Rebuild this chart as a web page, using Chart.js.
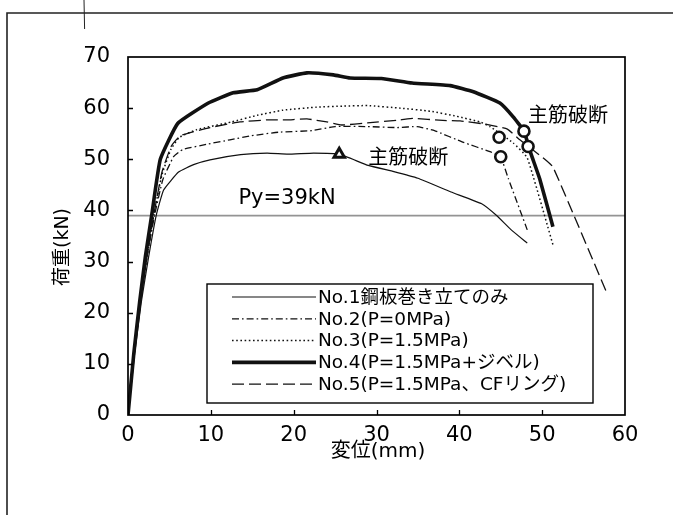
<!DOCTYPE html>
<html>
<head>
<meta charset="utf-8">
<script src="https://cdn.jsdelivr.net/npm/chart.js@4.4.1/dist/chart.umd.min.js"></script>
<style>
  html, body { margin: 0; padding: 0; background: #fff; }
  #wrap { width: 673px; height: 515px; position: relative; }
</style>
</head>
<body>
<div id="wrap"><canvas id="c"></canvas></div>
<script>
// Load–displacement records (displacement in mm, load in kN)
const seriesLabels = [
  'No.1鋼板巻き立てのみ',
  'No.2(P=0MPa)',
  'No.3(P=1.5MPa)',
  'No.4(P=1.5MPa+ジベル)',
  'No.5(P=1.5MPa、CFリング)'
];

const no1Disp = [0, 0.8, 1.6, 2.5, 3.4, 4.3, 6.1, 8.0, 9.9, 13.6, 16.8, 19.3, 22.4, 25.5, 29.0, 32.1, 35.0, 39.0, 42.7, 44.5, 46.2, 48.2];
const no1Load = [0, 12, 22, 31, 39, 44, 47.5, 49.0, 49.9, 50.9, 51.2, 51.0, 51.2, 51.0, 48.8, 47.6, 46.3, 43.6, 41.3, 39.0, 36.3, 33.6];

const no2Disp = [0, 0.75, 1.5, 2.3, 3.2, 4.2, 5.5, 6.6, 9.7, 12.3, 14.9, 18.2, 22.2, 25.0, 28.9, 32.5, 34.9, 37.0, 40.5, 43.7, 45.0, 45.9, 48.2];
const no2Load = [0, 12, 22, 31, 39, 46, 50.5, 51.9, 53.0, 53.8, 54.6, 55.3, 55.6, 56.4, 56.4, 56.2, 56.4, 55.6, 53.3, 51.5, 50.4, 46.3, 36.2];

const no3Disp = [0, 0.75, 1.5, 2.3, 3.1, 4.1, 5.2, 6.2, 8.3, 12.5, 15.6, 18.7, 22.8, 26.0, 28.9, 32.9, 36.5, 39.7, 42.5, 43.7, 46.5, 48.2, 51.3];
const no3Load = [0, 12, 22, 31, 39, 47, 52, 54.3, 55.8, 57.3, 58.6, 59.6, 60.2, 60.4, 60.5, 60.0, 59.4, 58.4, 57.3, 56.4, 53.2, 50.3, 33.3];

const no4Disp = [0, 0.7, 1.4, 2.1, 2.9, 3.9, 6.0, 9.7, 12.7, 15.6, 18.7, 21.6, 24.8, 26.8, 30.6, 34.3, 38.9, 41.7, 44.9, 46.5, 47.8, 48.6, 49.7, 51.3];
const no4Load = [0, 12, 22, 31, 39.5, 50, 57, 61, 63, 63.6, 65.9, 66.9, 66.5, 65.9, 65.8, 64.9, 64.4, 63.2, 61.0, 58.3, 55.5, 51.3, 46.2, 36.8];

const no5Disp = [0, 0.75, 1.5, 2.3, 3.1, 4.1, 5.2, 6.3, 9.9, 13.5, 16.8, 19.2, 21.6, 24.0, 25.8, 28.9, 32.9, 34.4, 38.0, 40.1, 43.0, 45.8, 47.3, 50.1, 51.3, 57.9];
const no5Load = [0, 12, 22, 31, 39, 47.5, 52.5, 54.6, 56.2, 57.3, 57.7, 57.7, 57.9, 57.3, 56.7, 57.1, 57.7, 58.0, 57.6, 57.5, 56.9, 55.9, 53.8, 50.3, 48.5, 23.5];

// Rebar fracture points
const fractureTriDisp = [25.5];
const fractureTriLoad = [51.0];
const fractureCircDisp = [44.8, 45.0, 47.8, 48.3];
const fractureCircLoad = [54.3, 50.5, 55.5, 52.5];

// Yield load
const yieldLoad = 39;

// Axis ticks
const xTickValues = [0, 10, 20, 30, 40, 50, 60];
const yTickValues = [0, 10, 20, 30, 40, 50, 60, 70];

const pts = (xs, ys) => xs.map((v, i) => ({ x: v, y: ys[i] }));

const INK = '#111';
const LATIN_CJK = '"DejaVu Sans", "Noto Sans CJK JP", sans-serif';
const CJK = '"Noto Sans CJK JP", "DejaVu Sans", sans-serif';

const lineBase = {
  showLine: true,
  pointRadius: 0,
  pointHoverRadius: 0,
  borderColor: INK,
  backgroundColor: INK,
  fill: false,
  tension: 0.12,
  borderCapStyle: 'butt',
  borderJoinStyle: 'round'
};

const datasets = [
  { label: 'fracture-tri', data: pts(fractureTriDisp, fractureTriLoad), showLine: false,
    pointStyle: 'triangle', pointRadius: 6, borderWidth: 3, borderColor: INK, backgroundColor: '#fff', order: 0 },
  { label: 'fracture-circ', data: pts(fractureCircDisp, fractureCircLoad), showLine: false,
    pointStyle: 'circle', pointRadius: 5.5, borderWidth: 2.6, borderColor: INK, backgroundColor: '#fff', order: 0 },
  { ...lineBase, label: seriesLabels[0], data: pts(no1Disp, no1Load), borderWidth: 1.2, borderDash: [], order: 2, legendRow: 0 },
  { ...lineBase, label: seriesLabels[1], data: pts(no2Disp, no2Load), borderWidth: 1.3, borderDash: [7, 3, 1.6, 3], order: 2, legendRow: 1 },
  { ...lineBase, label: seriesLabels[2], data: pts(no3Disp, no3Load), borderWidth: 1.5, borderDash: [1.6, 2.6], order: 2, legendRow: 2 },
  { ...lineBase, label: seriesLabels[3], data: pts(no4Disp, no4Load), borderWidth: 3.6, borderDash: [], order: 1, legendRow: 3 },
  { ...lineBase, label: seriesLabels[4], data: pts(no5Disp, no5Load), borderWidth: 1.3, borderDash: [12, 5], order: 2, legendRow: 4 },
  { ...lineBase, label: 'Py', data: [{ x: 0, y: yieldLoad }, { x: 60, y: yieldLoad }],
    borderColor: '#949494', borderWidth: 1.7, tension: 0, order: 3 }
];

// Frame, inward ticks, axis titles, notes and the boxed legend
const figureDecor = {
  id: 'figureDecor',
  afterDraw(chart) {
    const { ctx, chartArea: a, scales: { x, y } } = chart;
    ctx.save();

    // outer figure rule lines
    ctx.strokeStyle = '#222';
    ctx.lineWidth = 1.6;
    ctx.beginPath();
    ctx.moveTo(7, 515); ctx.lineTo(7, 13); ctx.lineTo(673, 13);
    ctx.stroke();
    ctx.lineWidth = 1;
    ctx.beginPath();
    ctx.moveTo(84, 0); ctx.lineTo(84.6, 29);
    ctx.stroke();

    // plot frame
    ctx.strokeStyle = '#000';
    ctx.lineWidth = 1.7;
    ctx.strokeRect(a.left, a.top, a.right - a.left, a.bottom - a.top);

    // inward tick marks
    ctx.lineWidth = 1.3;
    ctx.beginPath();
    xTickValues.slice(1, -1).forEach(v => {
      const px = Math.round(x.getPixelForValue(v)) + 0.5;
      ctx.moveTo(px, a.bottom); ctx.lineTo(px, a.bottom - 5);
    });
    yTickValues.slice(1, -1).forEach(v => {
      const py = Math.round(y.getPixelForValue(v)) + 0.5;
      ctx.moveTo(a.left, py); ctx.lineTo(a.left + 5, py);
    });
    ctx.stroke();

    ctx.fillStyle = '#000';

    // axis titles
    ctx.font = '20px ' + LATIN_CJK;
    ctx.textAlign = 'center';
    ctx.textBaseline = 'middle';
    ctx.fillText('変位(mm)', 378, 452);
    ctx.save();
    ctx.translate(63, 247);
    ctx.rotate(-Math.PI / 2);
    ctx.font = '19px ' + LATIN_CJK;
    ctx.fillText('荷重(kN)', 0, 0);
    ctx.restore();

    // notes
    ctx.font = '21px ' + LATIN_CJK;
    ctx.textAlign = 'center';
    ctx.fillText('Py=' + yieldLoad + 'kN', x.getPixelForValue(19.2), y.getPixelForValue(42.3));
    ctx.font = '20px ' + CJK;
    ctx.textAlign = 'left';
    ctx.fillText('主筋破断', x.getPixelForValue(29.0), y.getPixelForValue(50.6));
    ctx.fillText('主筋破断', x.getPixelForValue(48.3), y.getPixelForValue(58.7));

    // legend box
    const L = 207, T = 284, R = 593, B = 403;
    ctx.fillStyle = '#fff';
    ctx.fillRect(L, T, R - L, B - T);
    ctx.strokeStyle = '#000';
    ctx.lineWidth = 1.4;
    ctx.strokeRect(L, T, R - L, B - T);
    const rows = chart.data.datasets.filter(d => d.legendRow !== undefined)
      .sort((p, q) => p.legendRow - q.legendRow);
    ctx.font = '18.5px ' + LATIN_CJK;
    ctx.textAlign = 'left';
    ctx.textBaseline = 'middle';
    rows.forEach((d, i) => {
      const ry = 297 + i * 21.8;
      ctx.strokeStyle = INK;
      ctx.lineWidth = d.borderWidth;
      ctx.setLineDash(d.borderDash || []);
      ctx.lineCap = 'butt';
      ctx.beginPath();
      ctx.moveTo(232, ry); ctx.lineTo(316, ry);
      ctx.stroke();
      ctx.setLineDash([]);
      ctx.fillStyle = '#000';
      ctx.fillText(d.label, 318, ry + 1);
    });

    ctx.restore();
  }
};

new Chart(document.getElementById('c'), {
  type: 'scatter',
  data: { datasets },
  plugins: [figureDecor],
  options: {
    responsive: true,
    maintainAspectRatio: false,
    animation: false,
    events: [],
    layout: { padding: { left: 0, top: 57, right: 48, bottom: 0 } },
    plugins: { legend: { display: false }, tooltip: { enabled: false } },
    scales: {
      x: {
        type: 'linear', min: 0, max: 60,
        afterFit: s => { s.height = 100; },
        afterBuildTicks: s => { s.ticks = xTickValues.map(v => ({ value: v })); },
        grid: { display: false, drawTicks: false },
        border: { display: false },
        ticks: { color: '#000', padding: 8, maxRotation: 0, autoSkip: false,
                 font: { family: '"DejaVu Sans"', size: 21 } }
      },
      y: {
        type: 'linear', min: 0, max: 70,
        afterFit: s => { s.width = 128; },
        afterBuildTicks: s => { s.ticks = yTickValues.map(v => ({ value: v })); },
        grid: { display: false, drawTicks: false },
        border: { display: false },
        ticks: { color: '#000', padding: 18, autoSkip: false,
                 font: { family: '"DejaVu Sans"', size: 21 } }
      }
    }
  }
});
</script>
</body>
</html>
